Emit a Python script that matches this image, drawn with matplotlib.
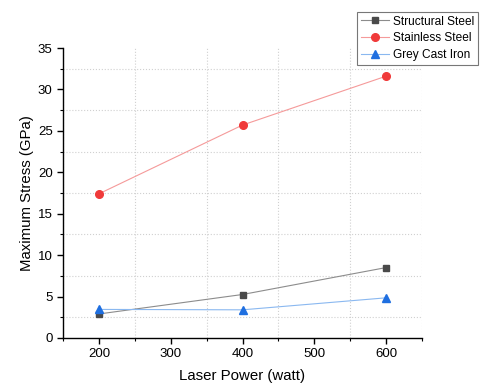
import matplotlib
matplotlib.use("Agg")
import matplotlib.pyplot as plt
from matplotlib.ticker import MultipleLocator

plt.rcParams['font.family'] = ['Liberation Sans', 'DejaVu Sans']

##### Data ######
power = [200, 400, 600]  # watt
structural_steel = [2.9, 5.25, 8.5]  # GPa
stainless_steel = [17.4, 25.7, 31.6]
grey_cast_iron = [3.45, 3.4, 4.85]
#################

fig = plt.figure(figsize=(4.8, 3.89), dpi=100)
ax = fig.add_axes([63/480, 51/389, 359/480, 290/389])

l1, = ax.plot(power, structural_steel, color='#8c8c8c', lw=0.8, marker='s', ms=5,
              mfc='#4a4a4a', mec='#4a4a4a', label='Structural Steel')
l2, = ax.plot(power, stainless_steel, color='#f59a9a', lw=0.8, marker='o', ms=5.5,
              mfc='#f03a3a', mec='#f03a3a', label='Stainless Steel')
l3, = ax.plot(power, grey_cast_iron, color='#8ab8f0', lw=0.8, marker='^', ms=6,
              mfc='#1f6fe0', mec='#1f6fe0', label='Grey Cast Iron')

ax.set_xlim(150, 650)
ax.set_ylim(0, 35)
ax.xaxis.set_major_locator(MultipleLocator(100))
ax.xaxis.set_minor_locator(MultipleLocator(50))
ax.yaxis.set_major_locator(MultipleLocator(5))
ax.yaxis.set_minor_locator(MultipleLocator(2.5))

# grid only on the minor positions
ax.grid(which='minor', color='#d0d0d0', ls=':', lw=0.8)
ax.grid(which='major', visible=False)

ax.spines['top'].set_visible(False)
ax.spines['right'].set_visible(False)
ax.spines['left'].set_linewidth(1.0)
ax.spines['bottom'].set_linewidth(1.0)
ax.tick_params(which='major', direction='out', length=4, width=1.0, labelsize=9.5, colors='black')
ax.tick_params(which='minor', direction='out', length=2.5, width=0.8)

ax.set_xlabel('Laser Power (watt)', fontsize=10.8, labelpad=6)
ax.set_ylabel('Maximum Stress (GPa)', fontsize=10.8, labelpad=3)

leg = fig.legend(handles=[l1, l2, l3], loc='upper left', bbox_to_anchor=(357/480, 1 - 12/389),
                 fontsize=8.6, frameon=True, fancybox=False, borderpad=0.3, labelspacing=0.4,
                 handlelength=2.4, handletextpad=0.3, borderaxespad=0)
leg.get_frame().set_edgecolor('#555555')
leg.get_frame().set_linewidth(0.8)

fig.savefig('out.png', dpi=100)
